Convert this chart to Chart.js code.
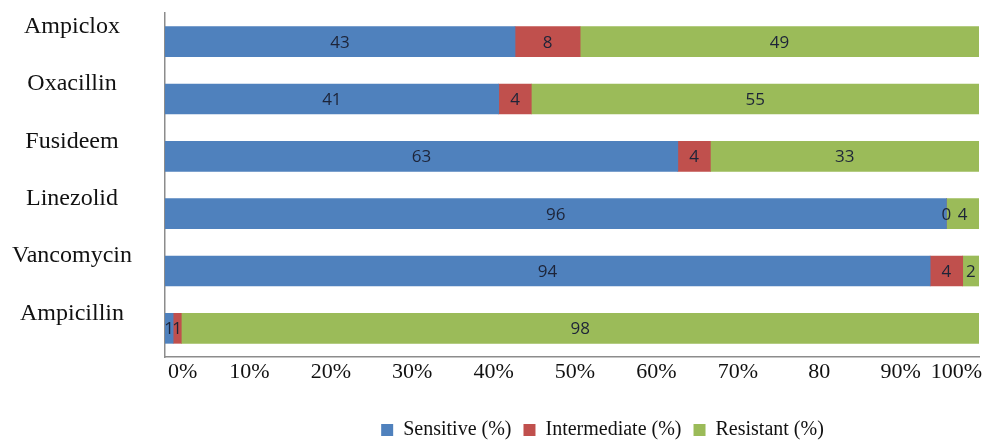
<!DOCTYPE html>
<html>
<head>
<meta charset="utf-8">
<script src="https://cdn.jsdelivr.net/npm/chart.js@4.4.1/dist/chart.umd.min.js"></script>
<style>
  html, body { margin: 0; padding: 0; background: #fff; }
  #wrap { width: 985px; height: 446px; }
</style>
</head>
<body>
<div id="wrap"><canvas id="susceptibility"></canvas></div>
<script>
const drugs = ['Ampiclox', 'Oxacillin', 'Fusideem', 'Linezolid', 'Vancomycin', 'Ampicillin'];
const sensitive = [43, 41, 63, 96, 94, 1];
const intermediate = [8, 4, 4, 0, 4, 1];
const resistant = [49, 55, 33, 4, 2, 98];
const xTickLabels = ['0%', '10%', '20%', '30%', '40%', '50%', '60%', '70%', '80', '90%', '100%'];

const serif = '"Liberation Serif", "DejaVu Serif", serif';

// writes each segment's value in the middle of its bar piece
const segmentValues = {
    id: 'segmentValues',
    afterDatasetsDraw(chart) {
        const ctx = chart.ctx;
        ctx.save();
        ctx.font = '17px "Open Sans", "DejaVu Sans", sans-serif';
        ctx.fillStyle = '#1d2438';
        ctx.textAlign = 'center';
        ctx.textBaseline = 'middle';
        chart.data.datasets.forEach((ds, i) => {
            const meta = chart.getDatasetMeta(i);
            meta.data.forEach((bar, j) => {
                const cx = (bar.x + bar.base) / 2;
                ctx.fillText(String(ds.data[j]), cx, bar.y + 1);
            });
        });
        ctx.restore();
    }
};

// legend sits right of centre, under the right half of the plot
const legendShift = {
    id: 'legendShift',
    afterLayout(chart) {
        chart.legend.left += 226;
        chart.legend.top += 4;
        chart.legend.bottom += 4;
    }
};

const ctx = document.getElementById('susceptibility').getContext('2d');
new Chart(ctx, {
    type: 'bar',
    data: {
        labels: drugs,
        datasets: [
            { label: 'Sensitive (%)', data: sensitive, backgroundColor: '#4f81bd' },
            { label: 'Intermediate (%)', data: intermediate, backgroundColor: '#c0504d' },
            { label: 'Resistant (%)', data: resistant, backgroundColor: '#9bbb59' }
        ]
    },
    options: {
        indexAxis: 'y',
        responsive: true,
        maintainAspectRatio: false,
        animation: false,
        barThickness: 30,
        layout: { padding: { left: 0, right: 6, top: 13, bottom: 0 } },
        scales: {
            x: {
                stacked: true,
                min: 0,
                max: 100,
                afterFit(scale) {
                    scale.height = 47;
                    scale.paddingLeft = 0;
                    scale.paddingRight = 0;
                },
                ticks: {
                    stepSize: 10,
                    padding: 2,
                    align: 'inner',
                    labelOffset: 3,
                    maxRotation: 0,
                    autoSkip: false,
                    color: '#111',
                    font: { family: serif, size: 22 },
                    callback: (v, i) => xTickLabels[i]
                },
                grid: { display: false, drawTicks: false },
                border: { color: '#8c8c8c', width: 1.5 }
            },
            y: {
                stacked: true,
                afterFit(scale) {
                    scale.width = 165;
                    scale.paddingTop = 0;
                    scale.paddingBottom = 0;
                },
                ticks: {
                    crossAlign: 'center',
                    padding: 33,
                    labelOffset: -15,
                    color: '#111',
                    font: { family: serif, size: 24 }
                },
                grid: { display: false, drawTicks: false },
                border: { color: '#8c8c8c', width: 1.5 }
            }
        },
        plugins: {
            legend: {
                position: 'bottom',
                labels: {
                    boxWidth: 12,
                    boxHeight: 12,
                    padding: 12,
                    color: '#111',
                    font: { family: serif, size: 20 }
                }
            },
            tooltip: { enabled: false }
        }
    },
    plugins: [segmentValues, legendShift]
});
</script>
</body>
</html>
